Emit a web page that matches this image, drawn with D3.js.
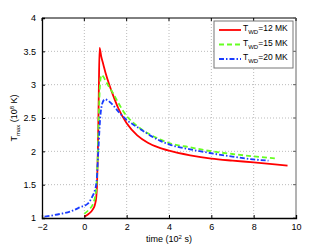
<!DOCTYPE html>
<html>
<head>
<meta charset="utf-8">
<script src="https://cdn.jsdelivr.net/npm/d3@7"></script>
<style>
  body { margin: 0; background: #fff; }
  svg { display: block; font-family: "Liberation Sans", Arial, sans-serif; }
  .grid line { stroke: #bbbbbb; stroke-dasharray: 1,2; }
  .axis text { font-size: 9px; fill: #000; }
</style>
</head>
<body>
<div id="chart"></div>
<script>
// values
const xTicks = [-2, 0, 2, 4, 6, 8, 10];
const yTicks = [1, 1.5, 2, 2.5, 3, 3.5, 4];

const redX = [0, 0.2, 0.4, 0.5, 0.56, 0.6, 0.64, 0.68, 0.72, 0.8, 0.9, 1.0, 1.2, 1.36, 1.6, 2.0, 2.5, 3.0, 3.5, 4.0, 5.0, 6.0, 7.0, 8.0, 9.0, 9.6];
const redY = [1.02, 1.06, 1.13, 1.2, 1.3, 1.5, 2.0, 2.8, 3.55, 3.42, 3.3, 3.18, 2.98, 2.84, 2.65, 2.42, 2.24, 2.13, 2.06, 2.01, 1.94, 1.89, 1.86, 1.835, 1.805, 1.785];

const greenX = [0, 0.2, 0.42, 0.55, 0.62, 0.68, 0.74, 0.81, 0.9, 1.0, 1.2, 1.36, 1.6, 2.0, 2.31, 2.62, 3.0, 3.57, 4.04, 5.0, 5.93, 7.0, 7.97, 9.0];
const greenY = [1.065, 1.12, 1.22, 1.4, 1.8, 2.5, 3.0, 3.145, 3.12, 3.06, 2.95, 2.87, 2.73, 2.53, 2.43, 2.35, 2.27, 2.18, 2.12, 2.06, 2.005, 1.96, 1.925, 1.895];

const blueX = [-1.88, -1.16, -0.68, -0.21, 0.18, 0.34, 0.5, 0.58, 0.66, 0.75, 0.85, 0.97, 1.2, 1.68, 2.0, 2.47, 3.0, 3.57, 4.04, 5.0, 5.93, 7.0, 7.97, 8.7];
const blueY = [1.02, 1.06, 1.095, 1.16, 1.22, 1.3, 1.42, 1.55, 2.0, 2.5, 2.72, 2.78, 2.74, 2.57, 2.47, 2.37, 2.26, 2.16, 2.1, 2.03, 1.975, 1.92, 1.88, 1.86];

const seriesNames = ['=12 MK', '=15 MK', '=20 MK'];

const series = [
  { name: seriesNames[0], xs: redX, ys: redY, color: '#ff0000', dash: null },
  { name: seriesNames[1], xs: greenX, ys: greenY, color: '#66ff22', dash: '5,3' },
  { name: seriesNames[2], xs: blueX, ys: blueY, color: '#1a3cff', dash: '5,2,1.5,2' }
];

const width = 327, height = 246;
const margin = { top: 18, right: 31, bottom: 28, left: 42 };
const w = width - margin.left - margin.right;
const h = height - margin.top - margin.bottom;

const svg = d3.select('#chart').append('svg')
  .attr('width', width)
  .attr('height', height);

const g = svg.append('g')
  .attr('transform', `translate(${margin.left},${margin.top})`);

const x = d3.scaleLinear().domain([-2, 10]).range([0, w]);
const y = d3.scaleLinear().domain([1, 4]).range([h, 0]);

// dotted grid
g.append('g').attr('class', 'grid')
  .selectAll('line').data(xTicks.slice(1, -1)).join('line')
  .attr('x1', d => x(d)).attr('x2', d => x(d))
  .attr('y1', 0).attr('y2', h);
g.append('g').attr('class', 'grid')
  .selectAll('line').data(yTicks.slice(1, -1)).join('line')
  .attr('x1', 0).attr('x2', w)
  .attr('y1', d => y(d)).attr('y2', d => y(d));

// lines
const line = d3.line()
  .x(d => x(d[0]))
  .y(d => y(d[1]))
  .curve(d3.curveMonotoneX);

series.forEach(s => {
  const pts = s.xs.map((v, i) => [v, s.ys[i]]);
  g.append('path')
    .datum(pts)
    .attr('fill', 'none')
    .attr('stroke', s.color)
    .attr('stroke-width', 1.8)
    .attr('stroke-dasharray', s.dash)
    .attr('d', line);
});

// box (top / right)
g.append('line').attr('x1', 0).attr('x2', w).attr('y1', 0).attr('y2', 0)
  .attr('stroke', '#000').attr('stroke-width', 1);
g.append('line').attr('x1', w).attr('x2', w).attr('y1', 0).attr('y2', h)
  .attr('stroke', '#666').attr('stroke-width', 1);
g.append('g').selectAll('line').data(xTicks).join('line')
  .attr('x1', d => x(d)).attr('x2', d => x(d)).attr('y1', 0).attr('y2', 3)
  .attr('stroke', '#000');
g.append('g').selectAll('line').data(yTicks).join('line')
  .attr('x1', w).attr('x2', w - 3).attr('y1', d => y(d)).attr('y2', d => y(d))
  .attr('stroke', '#666');

// axes
const xAxis = g.append('g').attr('class', 'axis')
  .attr('transform', `translate(0,${h})`)
  .call(d3.axisBottom(x).tickValues(xTicks).tickSize(-3).tickPadding(6).tickFormat(d3.format('d')));
const yAxis = g.append('g').attr('class', 'axis')
  .call(d3.axisLeft(y).tickValues(yTicks).tickSize(-3).tickPadding(6).tickFormat(d => d));

[xAxis, yAxis].forEach(a => {
  a.select('.domain').attr('stroke', '#000').attr('stroke-width', 1.3);
  a.selectAll('.tick line').attr('stroke', '#000');
});

// axis labels
const xl = svg.append('text')
  .attr('x', margin.left + x(4))
  .attr('y', 242)
  .attr('text-anchor', 'middle')
  .attr('font-size', 9);
xl.append('tspan').text('time (10');
xl.append('tspan').attr('dy', -3.5).attr('font-size', 6).text('2');
xl.append('tspan').attr('dy', 3.5).text(' s)');

const yl = svg.append('text')
  .attr('transform', `translate(17,${margin.top + y(2.5)}) rotate(-90)`)
  .attr('text-anchor', 'middle')
  .attr('font-size', 9);
yl.append('tspan').text('T');
yl.append('tspan').attr('dy', 3).attr('font-size', 6).text('max');
yl.append('tspan').attr('dy', -3).text(' (10');
yl.append('tspan').attr('dy', -3.5).attr('font-size', 6).text('8');
yl.append('tspan').attr('dy', 3.5).text(' K)');

// legend
const lg = svg.append('g').attr('transform', 'translate(214,21)');
lg.append('rect')
  .attr('width', 79).attr('height', 47)
  .attr('fill', '#fff').attr('stroke', '#777').attr('stroke-width', 1);

series.forEach((s, i) => {
  const yy = 9 + i * 14.5;
  lg.append('line')
    .attr('x1', 5).attr('x2', 27).attr('y1', yy).attr('y2', yy)
    .attr('stroke', s.color).attr('stroke-width', 1.8)
    .attr('stroke-dasharray', s.dash);
  const t = lg.append('text')
    .attr('x', 29).attr('y', yy + 1)
    .attr('font-size', 8.5);
  t.append('tspan').text('T');
  t.append('tspan').attr('dy', 3).attr('font-size', 6).text('WD');
  t.append('tspan').attr('dy', -3).text(s.name);
});
</script>
</body>
</html>
